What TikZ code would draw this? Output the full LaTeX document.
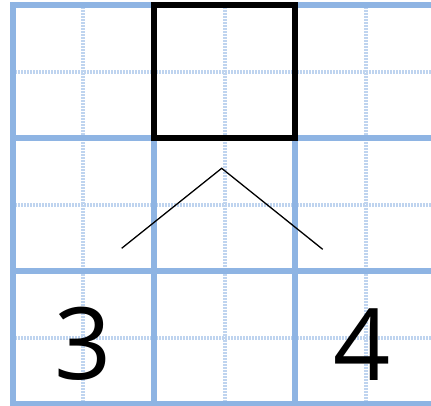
\documentclass[tikz,border=0pt]{standalone}
\usepackage{fontspec}
\setmainfont{Open Sans}
\definecolor{gridblue}{HTML}{8EB4E3}
\definecolor{dotblue}{HTML}{BFD4EF}
\begin{document}
\begin{tikzpicture}[x=1pt,y=-1pt,
  thickgrid/.style={draw=gridblue,line width=5.5pt},
  dotgrid/.style={draw=dotblue,line width=4pt,dash pattern=on 2pt off 1pt},
  boxline/.style={draw=black,line width=5.5pt},
  branch/.style={draw=black,line width=1.3pt},
  digit/.style={font=\fontsize{100}{100}\selectfont,inner sep=0pt}]
\useasboundingbox (0,0) rectangle (431,405);
\begin{scope}
\clip (0,0) rectangle (431,405);
% dotted guides
\foreach \x in {83,224.5,365.5} \draw[dotgrid] (\x,7) -- (\x,405);
\foreach \y in {71.5,204.5,337.5} \draw[dotgrid] (15,\y) -- (431,\y);
% thick grid
\foreach \x in {13,154,295} \draw[thickgrid] (\x,2) -- (\x,408);
\foreach \y in {4.8,138,271,404} \draw[thickgrid] (10,\y) -- (435,\y);
\end{scope}
% black box
\node[boxline,minimum width=141pt,minimum height=133.2pt,inner sep=0pt] (box) at (224.5,71.4) {};
% branches
\coordinate (apex) at (221.7,168.3);
\coordinate (leftend) at (121.7,248.3);
\coordinate (rightend) at (322.7,249.3);
\draw[branch] (leftend) -- (apex) -- (rightend);
% digits
\node[digit] (three) at (83,343.5) {3};
\node[digit] (four) at (362,345) {4};
\end{tikzpicture}
\end{document}
